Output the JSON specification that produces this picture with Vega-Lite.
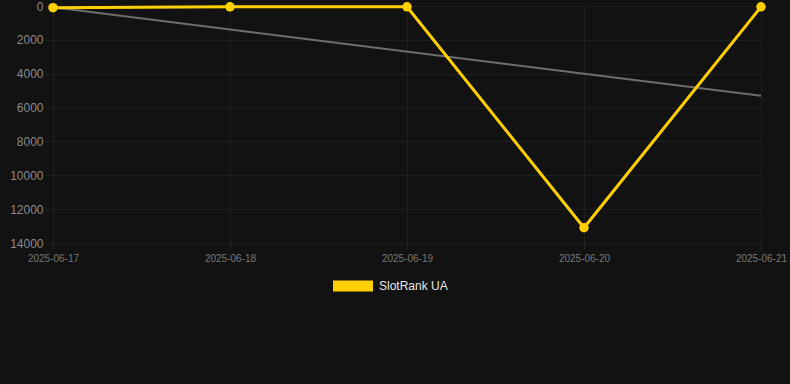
{
  "$schema": "https://vega.github.io/schema/vega-lite/v6.json",
  "width": 708,
  "height": 237,
  "autosize": {"type": "none"},
  "padding": {"left": 53, "top": 6, "right": 29, "bottom": 141},
  "background": "#121212",
  "config": {
    "view": {"stroke": null},
    "font": "Liberation Sans",
    "axis": {"gridColor": "#1f1f1f", "gridWidth": 1, "domain": false}
  },
  "datasets": {
    "main": [
      {"date": "2025-06-17", "rank": 100, "series": "SlotRank UA"},
      {"date": "2025-06-18", "rank": 50, "series": "SlotRank UA"},
      {"date": "2025-06-19", "rank": 50, "series": "SlotRank UA"},
      {"date": "2025-06-20", "rank": 13100, "series": "SlotRank UA"},
      {"date": "2025-06-21", "rank": 50, "series": "SlotRank UA"}
    ],
    "trend": [
      {"date": "2025-06-17", "rank": 80},
      {"date": "2025-06-21", "rank": 5300}
    ]
  },
  "encoding": {
    "x": {
      "field": "date",
      "type": "ordinal",
      "scale": {"type": "point", "padding": 0, "domain": ["2025-06-17", "2025-06-18", "2025-06-19", "2025-06-20", "2025-06-21"]},
      "axis": {
        "title": null,
        "labelAngle": 0,
        "labelColor": "#777777",
        "labelFontSize": 10,
        "labelPadding": 4,
        "tickColor": "#262626",
        "tickSize": 6,
        "grid": true
      }
    },
    "y": {
      "field": "rank",
      "type": "quantitative",
      "scale": {"domain": [0, 14000], "reverse": true, "nice": false},
      "axis": {
        "title": null,
        "values": [0, 2000, 4000, 6000, 8000, 10000, 12000, 14000],
        "labelColor": "#8a8a8a",
        "labelFontSize": 12,
        "labelPadding": 2,
        "tickColor": "#1f1f1f",
        "tickSize": 8,
        "format": "d",
        "grid": true
      }
    }
  },
  "layer": [
    {
      "data": {"name": "trend"},
      "mark": {"type": "line", "color": "#6e6e6e", "strokeWidth": 2}
    },
    {
      "data": {"name": "main"},
      "mark": {"type": "line", "strokeWidth": 3, "point": {"filled": true, "size": 90, "opacity": 1}},
      "encoding": {
        "color": {
          "field": "series",
          "type": "nominal",
          "scale": {"domain": ["SlotRank UA"], "range": ["#ffd000"]},
          "legend": {
            "title": null,
            "orient": "none",
            "legendX": 280,
            "legendY": 260,
            "symbolType": "M-1,-0.275H1V0.275H-1Z",
            "symbolSize": 1600,
            "symbolStrokeWidth": 0,
            "symbolOpacity": 1,
            "labelColor": "#e6e6e6",
            "labelFontSize": 12,
            "labelOffset": 6,
            "padding": 0
          }
        }
      }
    }
  ]
}
